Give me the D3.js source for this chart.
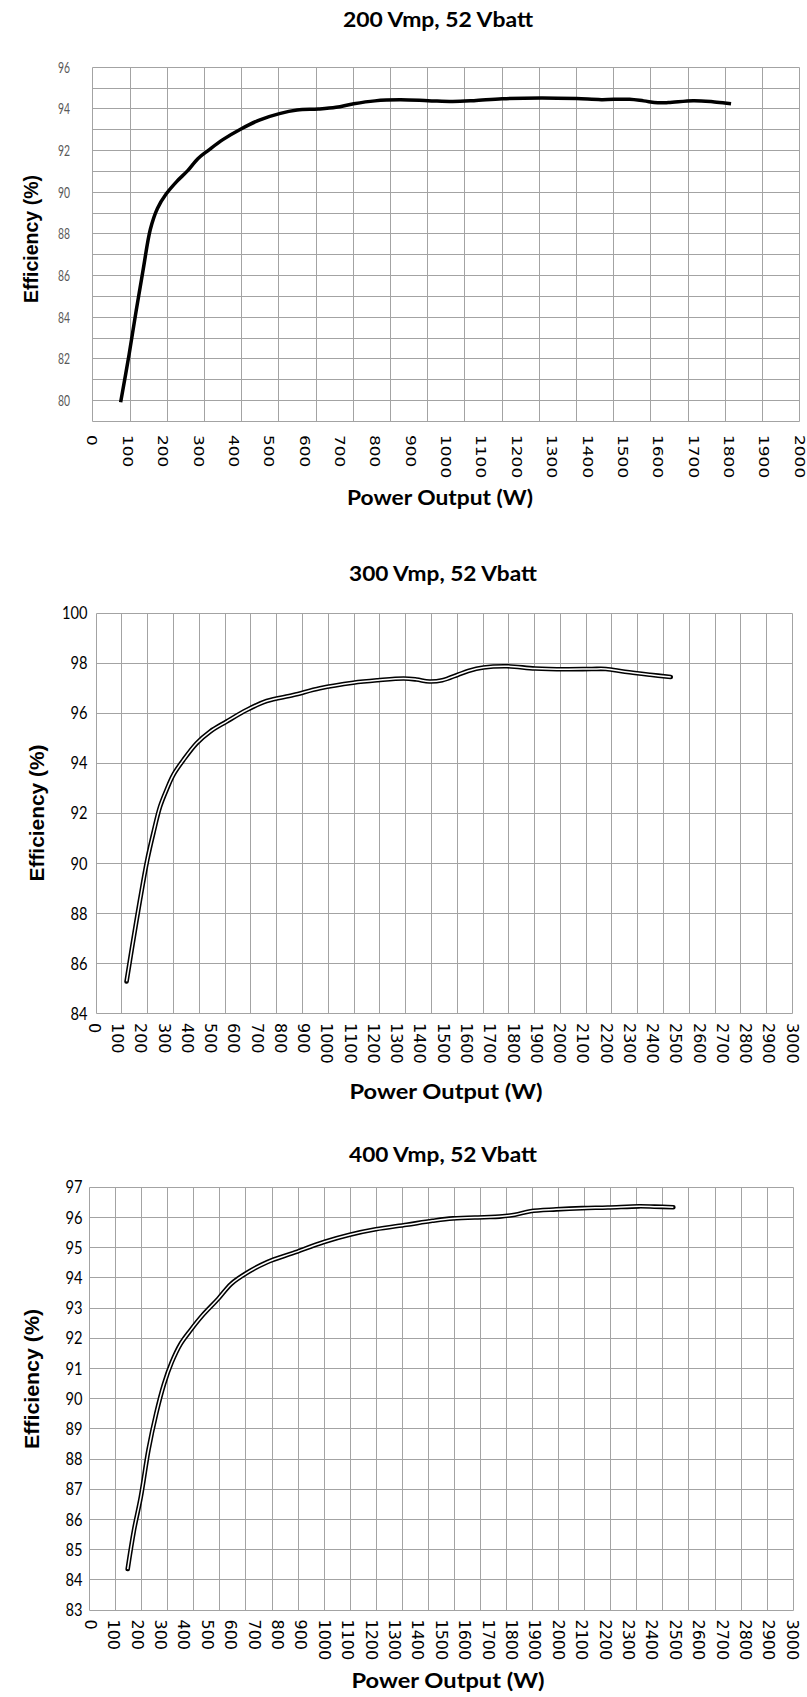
<!DOCTYPE html>
<html><head><meta charset="utf-8">
<script src="https://cdn.jsdelivr.net/npm/d3@7"></script>
<style>body{margin:0;background:#fff}svg{display:block}</style>
</head><body>
<svg id="c" width="807" height="1697"></svg>
<script>
// ---------- DATA ----------
const titles = ["200 Vmp, 52 Vbatt", "300 Vmp, 52 Vbatt", "400 Vmp, 52 Vbatt"];
const xAxisTitle = "Power Output (W)";
const yAxisTitle = "Efficiency (%)";

const power1 = [81, 105, 125, 145, 165, 185, 210, 240, 270, 300, 330, 370, 420, 475, 530, 580, 640, 690, 740, 800, 870, 950, 1020, 1080, 1160, 1270, 1370, 1440, 1520, 1560, 1600, 1630, 1700, 1750, 1807];
const eff1   = [79.9, 82.2, 84.3, 86.3, 88.2, 89.2, 89.9, 90.5, 91.0, 91.6, 92.0, 92.5, 93.0, 93.45, 93.75, 93.92, 93.97, 94.05, 94.22, 94.36, 94.41, 94.37, 94.33, 94.37, 94.46, 94.5, 94.47, 94.42, 94.44, 94.36, 94.27, 94.28, 94.37, 94.33, 94.22];

const power2 = [140, 162, 198, 229, 255, 284, 312, 341, 384, 441, 499, 570, 656, 742, 857, 971, 1114, 1220, 1331, 1386, 1441, 1497, 1564, 1608, 1674, 1774, 1896, 2029, 2140, 2200, 2282, 2390, 2479];
const eff2   = [85.26, 86.53, 88.53, 90.12, 91.19, 92.25, 92.92, 93.52, 94.11, 94.78, 95.25, 95.65, 96.11, 96.47, 96.71, 96.98, 97.2, 97.3, 97.37, 97.33, 97.25, 97.3, 97.52, 97.67, 97.81, 97.86, 97.77, 97.74, 97.75, 97.75, 97.64, 97.52, 97.43];

const power3 = [161, 188, 217, 250, 283, 316, 349, 387, 426, 482, 548, 603, 669, 757, 867, 1000, 1110, 1221, 1353, 1463, 1551, 1684, 1750, 1816, 1882, 1993, 2103, 2213, 2346, 2412, 2493];
const eff3   = [84.34, 85.63, 86.72, 88.29, 89.49, 90.46, 91.18, 91.79, 92.21, 92.75, 93.29, 93.78, 94.14, 94.5, 94.8, 95.17, 95.41, 95.59, 95.74, 95.87, 95.95, 95.99, 96.01, 96.07, 96.19, 96.25, 96.29, 96.31, 96.35, 96.34, 96.32];

const xTicks1 = [0,100,200,300,400,500,600,700,800,900,1000,1100,1200,1300,1400,1500,1600,1700,1800,1900,2000];
const yTicks1 = [80,82,84,86,88,90,92,94,96];
const xTicks2 = [0,100,200,300,400,500,600,700,800,900,1000,1100,1200,1300,1400,1500,1600,1700,1800,1900,2000,2100,2200,2300,2400,2500,2600,2700,2800,2900,3000];
const yTicks2 = [84,86,88,90,92,94,96,98,100];
const xTicks3 = xTicks2.slice();
const yTicks3 = [83,84,85,86,87,88,89,90,91,92,93,94,95,96,97];

// ---------- DRAW ----------
const svg = d3.select("#c");
const GRID = "#a3a3a3";
const fmt = d3.format("d");

function drawChart(o) {
  const g = svg.append("g");
  const x = d3.scaleLinear().domain(o.xDomain).range(o.labelRange);
  const y = d3.scaleLinear().domain(o.yDomain).range([o.bottom, o.top]);
  const gx = d3.scaleLinear().domain([0, o.cols]).range([o.left, o.right]);
  const px = v => Math.round(v) + 0.5;

  // horizontal gridlines
  const hVals = d3.range(o.yDomain[0], o.yDomain[1] + 1e-6, o.gridStep);
  g.selectAll("line.h").data(hVals).join("line").attr("class", "h")
    .attr("x1", px(o.left)).attr("x2", px(o.right))
    .attr("y1", d => px(y(d))).attr("y2", d => px(y(d)))
    .attr("stroke", GRID).attr("stroke-width", 1);
  // vertical gridlines
  g.selectAll("line.v").data(d3.range(o.cols + 1)).join("line").attr("class", "v")
    .attr("y1", px(o.top)).attr("y2", px(o.bottom))
    .attr("x1", d => px(gx(d))).attr("x2", d => px(gx(d)))
    .attr("stroke", GRID).attr("stroke-width", 1);

  // data line
  const line = d3.line().x((d, i) => x(o.px[i])).y((d, i) => y(o.py[i])).curve(d3.curveCatmullRom.alpha(0.5));
  if (o.double) {
    g.append("path").attr("d", line(o.px)).attr("fill", "none").attr("stroke", "#000")
      .attr("stroke-width", 4.6).attr("stroke-linecap", "round").attr("stroke-linejoin", "round");
    g.append("path").attr("d", line(o.px)).attr("fill", "none").attr("stroke", "#fff")
      .attr("stroke-width", 1.5).attr("stroke-linejoin", "round");
  } else {
    g.append("path").attr("d", line(o.px)).attr("fill", "none").attr("stroke", "#000")
      .attr("stroke-width", 3.5).attr("stroke-linecap", "butt").attr("stroke-linejoin", "round");
  }

  // y axis
  const ya = g.append("g").attr("transform", `translate(${o.yTickEnd},0)`)
    .call(d3.axisLeft(y).tickValues(o.yTicks).tickFormat(fmt).tickSize(0).tickPadding(0));
  ya.select(".domain").remove();
  ya.selectAll("text")
    .attr("font-family", o.yTickFont).attr("font-size", o.yTickSize).attr("fill", o.yTickColor)
    .attr("dy", "0.36em")
    .attr("textLength", d => fmt(d).length * o.yTickChar).attr("lengthAdjust", "spacingAndGlyphs");

  // x axis (rotated labels)
  const xa = g.append("g").attr("transform", `translate(0,${o.bottom + o.xTickGap})`)
    .call(d3.axisBottom(x).tickValues(o.xTicks).tickFormat(fmt).tickSize(0).tickPadding(0));
  xa.select(".domain").remove();
  xa.selectAll("text")
    .attr("font-family", "DejaVu Sans").attr("font-size", o.xTickSize).attr("fill", "#000")
    .attr("x", 0).attr("y", 0).attr("dy", "0.36em")
    .attr("transform", "rotate(90)").style("text-anchor", "start")
    .each(function(d) {
      if (o.xTickChar) d3.select(this).attr("textLength", fmt(d).length * o.xTickChar).attr("lengthAdjust", "spacingAndGlyphs");
    });

  // title
  g.append("text").text(o.title).attr("x", o.titlePos[0]).attr("y", o.titlePos[1])
    .attr("text-anchor", "middle").attr("font-family", "Lato").attr("font-weight", 700)
    .attr("font-size", 20).attr("textLength", o.titleLen).attr("lengthAdjust", "spacingAndGlyphs");
  // x title
  g.append("text").text(xAxisTitle).attr("x", o.xTitlePos[0]).attr("y", o.xTitlePos[1])
    .attr("text-anchor", "middle").attr("font-family", "Lato").attr("font-weight", 700)
    .attr("font-size", 21).attr("textLength", o.xTitleLen).attr("lengthAdjust", "spacingAndGlyphs");
  // y title
  g.append("text").text(yAxisTitle)
    .attr("transform", `translate(${o.yTitlePos[0]},${o.yTitlePos[1]}) rotate(-90)`)
    .attr("text-anchor", "middle").attr("dy", "0.36em")
    .attr("font-family", "Liberation Sans, Arial, sans-serif").attr("font-weight", 700)
    .attr("font-size", o.yTitleSize).attr("textLength", o.yTitleLen).attr("lengthAdjust", "spacingAndGlyphs");
}

drawChart({
  title: titles[0], px: power1, py: eff1, xTicks: xTicks1, yTicks: yTicks1,
  xDomain: [0, 2000], labelRange: [92, 799.3], yDomain: [79, 96], gridStep: 1, cols: 19,
  top: 66.7, bottom: 421, left: 92.3, right: 799.3,
  yTickEnd: 70, yTickFont: "Lato", yTickSize: 15, yTickColor: "#595959", yTickChar: 6,
  xTickSize: 14, xTickChar: 10.8, xTickGap: 14,
  titlePos: [438, 27], titleLen: 190,
  xTitlePos: [440, 505], xTitleLen: 186,
  yTitlePos: [31, 239], yTitleSize: 20, yTitleLen: 128,
  double: false
});

drawChart({
  title: titles[1], px: power2, py: eff2, xTicks: xTicks2, yTicks: yTicks2,
  xDomain: [0, 3000], labelRange: [94, 792], yDomain: [84, 100], gridStep: 2, cols: 27,
  top: 612.7, bottom: 1013, left: 95.7, right: 792,
  yTickEnd: 87.5, yTickFont: "Lato", yTickSize: 17, yTickColor: "#000", yTickChar: 8.5,
  xTickSize: 16, xTickChar: 0, xTickGap: 10,
  titlePos: [443, 581], titleLen: 188,
  xTitlePos: [446, 1099], xTitleLen: 193,
  yTitlePos: [36, 813], yTitleSize: 21, yTitleLen: 137,
  double: true
});

drawChart({
  title: titles[2], px: power3, py: eff3, xTicks: xTicks3, yTicks: yTicks3,
  xDomain: [0, 3000], labelRange: [90, 792], yDomain: [83, 97], gridStep: 1, cols: 27,
  top: 1186.7, bottom: 1609.5, left: 89.1, right: 792.7,
  yTickEnd: 82.5, yTickFont: "Lato", yTickSize: 17, yTickColor: "#000", yTickChar: 8.5,
  xTickSize: 16, xTickChar: 0, xTickGap: 10,
  titlePos: [443, 1162], titleLen: 188,
  xTitlePos: [448, 1688], xTitleLen: 193,
  yTitlePos: [31, 1379], yTitleSize: 21, yTitleLen: 140,
  double: true
});
</script>
</body></html>
